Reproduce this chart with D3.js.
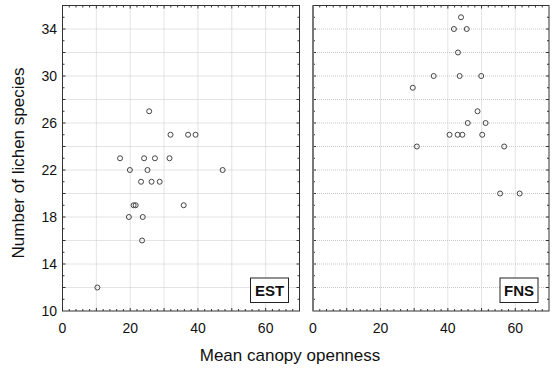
<!DOCTYPE html>
<html>
<head>
<meta charset="utf-8">
<script src="https://cdn.jsdelivr.net/npm/d3@7"></script>
<style>
  body { margin: 0; background: #fff; }
  svg text { font-family: "Liberation Sans", Arial, sans-serif; fill: #111; }
</style>
</head>
<body>
<div id="chart"></div>
<script>
// EST panel: canopy openness vs. number of lichen species
const estOpenness = [25.6, 31.9, 37.1, 39.3, 17.0, 24.1, 27.3, 31.6, 19.9, 25.1, 47.3,
  23.2, 26.3, 28.7, 21.0, 21.6, 35.8, 19.6, 23.7, 23.5, 10.3];
const estSpecies = [27, 25, 25, 25, 23, 23, 23, 23, 22, 22, 22,
  21, 21, 21, 19, 19, 19, 18, 18, 16, 12];

// FNS panel
const fnsOpenness = [43.9, 41.8, 45.6, 43.0, 35.8, 43.5, 49.9, 29.6, 48.8, 45.9, 51.2,
  40.5, 42.9, 44.3, 50.2, 30.8, 56.7, 55.5, 61.3];
const fnsSpecies = [35, 34, 34, 32, 30, 30, 30, 29, 27, 26, 26,
  25, 25, 25, 25, 24, 24, 20, 20];

const panelNames = ['EST', 'FNS'];
const xTicks = [0, 20, 40, 60];
const yTicks = [10, 14, 18, 22, 26, 30, 34];

const W = 557, H = 371;
const plotTop = 5.5, plotBottom = 311;
const panels = [
  { name: panelNames[0], x0: 62.5, x1: 299.5, xs: estOpenness, ys: estSpecies },
  { name: panelNames[1], x0: 313, x1: 549, xs: fnsOpenness, ys: fnsSpecies }
];

const svg = d3.select('#chart').append('svg')
  .attr('width', W)
  .attr('height', H);

const y = d3.scaleLinear().domain([10, 36]).range([plotBottom, plotTop]);

panels.forEach((p, pi) => {
  const x = d3.scaleLinear().domain([0, 70]).range([p.x0, p.x1]);
  const g = svg.append('g');

  // dotted grid
  g.selectAll('.vgrid').data(d3.range(10, 70, 10)).enter()
    .append('line')
    .attr('x1', d => x(d)).attr('x2', d => x(d))
    .attr('y1', plotTop).attr('y2', plotBottom)
    .attr('stroke', '#c8c8c8').attr('stroke-dasharray', '1,1');
  g.selectAll('.hgrid').data(d3.range(12, 36, 2)).enter()
    .append('line')
    .attr('y1', d => y(d)).attr('y2', d => y(d))
    .attr('x1', p.x0).attr('x2', p.x1)
    .attr('stroke', '#c8c8c8').attr('stroke-dasharray', '1,1');

  // inward ticks on all four sides
  d3.range(2, 70, 2).forEach(v => {
    const len = v % 10 === 0 ? 3 : 2;
    g.append('line').attr('x1', x(v)).attr('x2', x(v))
      .attr('y1', plotBottom).attr('y2', plotBottom - len).attr('stroke', '#333');
    g.append('line').attr('x1', x(v)).attr('x2', x(v))
      .attr('y1', plotTop).attr('y2', plotTop + len).attr('stroke', '#333');
  });
  d3.range(11, 36, 1).forEach(v => {
    const len = v % 2 === 0 ? 3 : 2;
    g.append('line').attr('y1', y(v)).attr('y2', y(v))
      .attr('x1', p.x0).attr('x2', p.x0 + len).attr('stroke', '#333');
    g.append('line').attr('y1', y(v)).attr('y2', y(v))
      .attr('x1', p.x1).attr('x2', p.x1 - len).attr('stroke', '#333');
  });

  // frame
  g.append('rect')
    .attr('x', p.x0).attr('y', plotTop)
    .attr('width', p.x1 - p.x0).attr('height', plotBottom - plotTop)
    .attr('fill', 'none').attr('stroke', '#333').attr('stroke-width', 1);
  g.append('line')
    .attr('x1', p.x0).attr('x2', p.x0).attr('y1', plotTop).attr('y2', plotBottom)
    .attr('stroke', pi === 0 ? '#333' : '#777').attr('stroke-width', pi === 0 ? 1 : 2);

  // x tick labels
  g.selectAll('.xl').data(xTicks).enter()
    .append('text')
    .attr('x', d => x(d)).attr('y', 333)
    .attr('text-anchor', 'middle')
    .attr('font-size', 14)
    .text(d => d);

  // points
  g.selectAll('.pt').data(p.xs.map((v, i) => [v, p.ys[i]])).enter()
    .append('circle')
    .attr('cx', d => x(d[0])).attr('cy', d => y(d[1]))
    .attr('r', 2.5)
    .attr('fill', 'none').attr('stroke', '#444').attr('stroke-width', 1);

  // panel label box
  const bx = p.x1 - 49, by = 278;
  g.append('rect')
    .attr('x', bx).attr('y', by).attr('width', 38).attr('height', 24.5)
    .attr('fill', '#fff').attr('stroke', '#222').attr('stroke-width', 1);
  g.append('text')
    .attr('x', bx + 19).attr('y', by + 18)
    .attr('text-anchor', 'middle')
    .attr('font-size', 15).attr('font-weight', 'bold')
    .text(p.name);
});

// y tick labels (left panel only)
svg.selectAll('.yl').data(yTicks).enter()
  .append('text')
  .attr('x', 57).attr('y', d => y(d) + 5)
  .attr('text-anchor', 'end')
  .attr('font-size', 14)
  .text(d => d);

// axis titles
svg.append('text')
  .attr('x', 290).attr('y', 361)
  .attr('text-anchor', 'middle')
  .attr('font-size', 17)
  .text('Mean canopy openness');

svg.append('text')
  .attr('transform', 'translate(24,163) rotate(-90)')
  .attr('text-anchor', 'middle')
  .attr('font-size', 17)
  .text('Number of lichen species');
</script>
</body>
</html>
